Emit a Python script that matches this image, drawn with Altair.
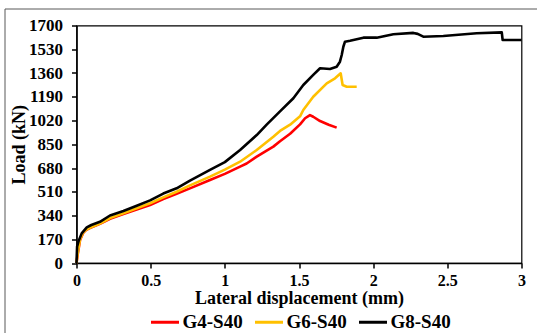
import altair as alt
import pandas as pd

# G4-S40 (red)
g4_x = [0, 0.008, 0.024, 0.045, 0.064, 0.09, 0.158, 0.226, 0.316, 0.406, 0.496, 0.585, 0.675, 0.765,
        0.9, 1.0, 1.103, 1.147, 1.215, 1.282, 1.327, 1.372, 1.44, 1.507, 1.541, 1.574, 1.596, 1.642, 1.7, 1.754]
g4_y = [0, 60, 165, 215, 236, 250, 280, 316, 350, 382, 415, 458, 496, 534,
        594, 638, 690, 712, 761, 805, 833, 872, 925, 992, 1036, 1059, 1047, 1016, 990, 969]

# G6-S40 (yellow)
g6_x = [0, 0.008, 0.024, 0.045, 0.064, 0.09, 0.158, 0.226, 0.316, 0.406, 0.496, 0.585, 0.675, 0.765,
        0.9, 1.0, 1.103, 1.215, 1.327, 1.372, 1.44, 1.507, 1.529, 1.596, 1.687, 1.743, 1.781, 1.794, 1.822, 1.889]
g6_y = [0, 70, 170, 218, 238, 252, 282, 322, 356, 392, 428, 470, 510, 556,
        618, 668, 725, 809, 904, 945, 990, 1050, 1095, 1190, 1286, 1322, 1358, 1274, 1262, 1262]

# G8-S40 (black)
g8_x = [0, 0.004, 0.015, 0.035, 0.069, 0.1, 0.158, 0.226, 0.316, 0.406, 0.496, 0.585, 0.675, 0.765,
        0.9, 1.0, 1.103, 1.215, 1.282, 1.372, 1.462, 1.529, 1.596, 1.642, 1.709, 1.754, 1.776, 1.788,
        1.799, 1.81, 1.844, 1.934, 2.024, 2.136, 2.271, 2.3, 2.338, 2.473, 2.698, 2.867, 2.873, 3.0]
g8_y = [0, 117, 160, 212, 255, 272, 295, 340, 372, 410, 448, 497, 535, 590,
        666, 722, 809, 916, 990, 1085, 1179, 1274, 1346, 1394, 1389, 1405, 1441, 1489,
        1548, 1584, 1591, 1613, 1613, 1637, 1647, 1640, 1620, 1625, 1644, 1651, 1596, 1596]

series_names = ["G4-S40", "G6-S40", "G8-S40"]
series_colors = ["#FF0000", "#FFC000", "#000000"]
y_ticks = [0, 170, 340, 510, 680, 850, 1020, 1190, 1360, 1530, 1700]
x_ticks = [0, 0.5, 1, 1.5, 2, 2.5, 3]

rows = []
for name, xs, ys in zip(series_names, [g4_x, g6_x, g8_x], [g4_y, g6_y, g8_y]):
    for i, (a, b) in enumerate(zip(xs, ys)):
        rows.append({"series": name, "disp": a, "load": b, "idx": i})
df = pd.DataFrame(rows)

FONT = "Liberation Serif"

lines = alt.Chart(df).mark_line(strokeWidth=2.6, strokeJoin="round").encode(
    x=alt.X("disp:Q", scale=alt.Scale(domain=[0, 3], nice=False),
            axis=alt.Axis(values=x_ticks, format="~g", title="Lateral displacement (mm)",
                          grid=False, tickSize=5, labelPadding=4, titlePadding=1, labelFlush=False,
                          domainColor="black", tickColor="black", domainWidth=1.5, tickWidth=1.5,
                          labelFont=FONT, labelFontSize=16, labelFontWeight="bold", labelColor="black",
                          titleFont=FONT, titleFontSize=18, titleFontWeight="bold", titleColor="black")),
    y=alt.Y("load:Q", scale=alt.Scale(domain=[0, 1700], nice=False),
            axis=alt.Axis(values=y_ticks, format="d", title="Load (kN)", grid=False, tickSize=5,
                          labelPadding=9, titleX=-48, titleY=118.75, labelFlush=False,
                          domainColor="black", tickColor="black", domainWidth=1.5, tickWidth=1.5,
                          labelFont=FONT, labelFontSize=17, labelFontWeight="bold", labelColor="black",
                          titleFont=FONT, titleFontSize=18, titleFontWeight="bold", titleColor="black")),
    color=alt.Color("series:N",
                    scale=alt.Scale(domain=series_names, range=series_colors),
                    legend=alt.Legend(title=None, orient="none", direction="horizontal",
                                      legendX=73, legendY=281,
                                      symbolType="stroke", symbolSize=784, symbolStrokeWidth=3,
                                      labelFont=FONT, labelFontSize=19, labelFontWeight="bold",
                                      labelColor="black", labelOffset=2, columnPadding=5)),
    detail="series:N",
    order="idx:Q",
)

frame_left = alt.Chart(alt.Data(values=[{}])).mark_rule(color="#595959", strokeWidth=1).encode(
    x=alt.value(-71.5), y=alt.value(-16.5), y2=alt.value(310))
frame_top = alt.Chart(alt.Data(values=[{}])).mark_rule(color="#595959", strokeWidth=1).encode(
    x=alt.value(-71.5), x2=alt.value(461), y=alt.value(-16.5))

chart = alt.layer(lines, frame_left, frame_top).properties(
    width=445, height=237.5,
    autosize=alt.AutoSizeParams(type="none"),
    padding={"left": 76.5, "top": 25.5, "right": 15.5, "bottom": 70},
    background="white",
).configure_view(stroke="black", strokeWidth=1.2)

chart.save("out.html", embed_options={"renderer": "svg", "actions": False})
